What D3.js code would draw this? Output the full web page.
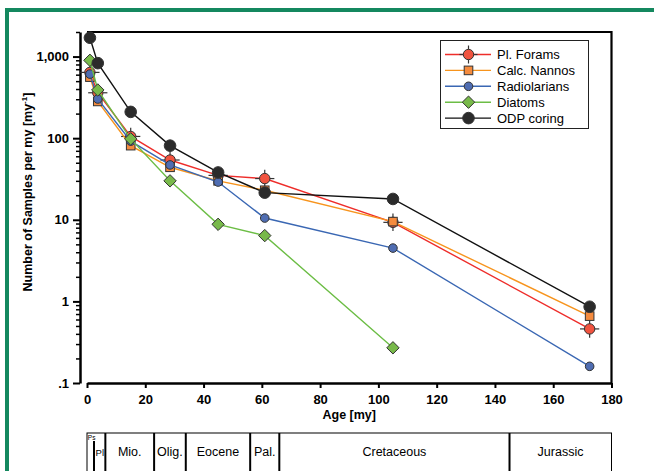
<!DOCTYPE html>
<html>
<head>
<meta charset="utf-8">
<script src="https://cdn.jsdelivr.net/npm/d3@7"></script>
<style>
body { margin: 0; background: #fff; font-family: "Liberation Sans", Arial, sans-serif; }
svg text { font-family: "Liberation Sans", Arial, sans-serif; }
</style>
</head>
<body>
<script>
// ages of the sample bins (my)
var ages = [1, 3.7, 15, 28.5, 45, 61, 105, 172.5];

// samples per my, one array per group
var forams  = [640, 360, 105, 54, 35, 32, 9.3, 0.46];
var nannos  = [560, 282, 81, 44, 30, 23, 9.5, 0.66];
var radio   = [610, 302, 92, 47, 29, 10.5, 4.5, 0.16];
var diatoms = [900, 390, 98, 30, 8.8, 6.4, 0.27];
var odp     = [1700, 830, 210, 81, 38, 21.5, 18, 0.86];

// error bars on Pl. Forams
var foramsAgeErr = 3.3;     // +/- my
var foramsFactor = 1.28;    // multiplicative

var xTicks = [0, 20, 40, 60, 80, 100, 120, 140, 160, 180];
var yMajor = [0.1, 1, 10, 100, 1000];
var yLabels = [".1", "1", "10", "100", "1,000"];

// geologic time scale
var epochBounds = [0, 2.4, 6.3, 23.03, 33.9, 56, 66, 145, 180];
var epochNames = ["Ps", "Pl", "Mio.", "Olig.", "Eocene", "Pal.", "Cretaceous", "Jurassic"];

var width = 654, height = 471;

var svg = d3.select("body").append("svg")
    .attr("width", width)
    .attr("height", height);

// green frame
svg.append("path")
    .attr("d", "M7,471 V10 H654")
    .attr("fill", "none")
    .attr("stroke", "#14885f")
    .attr("stroke-width", 4);

var x = d3.scaleLinear().domain([0, 180]).range([87, 611.5]);
var y = d3.scaleLog().domain([0.1, 2000]).range([383, 32]);

// frame top and right
svg.append("path")
    .attr("d", "M" + x(0) + "," + y(2000) + "H" + x(180) + "V" + y(0.1))
    .attr("fill", "none")
    .attr("stroke", "#000")
    .attr("stroke-width", 2.2);

// y axis, minor then major
var yMinor = y.ticks().filter(function(d) { return yMajor.indexOf(d) < 0; });
svg.append("g")
    .attr("transform", "translate(80,0)")
    .call(d3.axisLeft(y).tickValues(yMinor).tickSize(4).tickSizeOuter(0).tickFormat(""))
    .call(function(g) {
        g.selectAll("line").attr("stroke-width", 1.5);
        g.select(".domain").attr("stroke-width", 2.5);
    });
svg.append("g")
    .attr("transform", "translate(80,0)")
    .call(d3.axisLeft(y).tickValues(yMajor).tickSize(7).tickSizeOuter(0)
        .tickFormat(function(d, i) { return yLabels[i]; }))
    .call(function(g) {
        g.select(".domain").remove();
        g.selectAll("line").attr("stroke-width", 2);
        g.selectAll("text")
            .attr("x", -11)
            .attr("font-size", 13)
            .attr("font-weight", "bold")
            .attr("fill", "#000");
    });

// x axis
svg.append("g")
    .attr("transform", "translate(0," + y(0.1) + ")")
    .call(d3.axisBottom(x).tickValues(xTicks).tickSize(5).tickSizeOuter(0))
    .call(function(g) {
        g.select(".domain").attr("stroke-width", 2.5);
        g.selectAll("line").attr("stroke-width", 2);
        g.selectAll("text")
            .attr("y", 12)
            .attr("font-size", 13)
            .attr("font-weight", "bold")
            .attr("fill", "#000");
    });

svg.append("text")
    .attr("x", x(90))
    .attr("y", 419)
    .attr("text-anchor", "middle")
    .attr("font-size", 12.5)
    .attr("font-weight", "bold")
    .text("Age [my]");

var yl = svg.append("text")
    .attr("transform", "translate(32,192) rotate(-90)")
    .attr("text-anchor", "middle")
    .attr("font-size", 12.5)
    .attr("font-weight", "bold");
yl.append("tspan").text("Number of Samples per my [my");
yl.append("tspan").attr("font-size", 8).attr("dy", -5).text("-1");
yl.append("tspan").attr("dy", 5).text("]");

// series
var series = [
    { name: "Pl. Forams",   vals: forams,  line: "#ee2d2a", fill: "#f1533f", shape: "circle", r: 5.2, err: true },
    { name: "Calc. Nannos", vals: nannos,  line: "#f7941d", fill: "#f58b3e", shape: "square", r: 4.3 },
    { name: "Radiolarians", vals: radio,   line: "#3a67b3", fill: "#4f6db2", shape: "circle", r: 4.3 },
    { name: "Diatoms",      vals: diatoms, line: "#6cbd45", fill: "#78b94a", shape: "diamond", r: 6.2 },
    { name: "ODP coring",   vals: odp,     line: "#111111", fill: "#2b2b2b", shape: "circle", r: 5.8 }
];

function drawMarker(g, s, cx, cy) {
    var m;
    if (s.shape == "circle") {
        m = g.append("circle").attr("cx", cx).attr("cy", cy).attr("r", s.r);
    } else if (s.shape == "square") {
        m = g.append("rect").attr("x", cx - s.r).attr("y", cy - s.r)
            .attr("width", s.r * 2).attr("height", s.r * 2);
    } else {
        m = g.append("path").attr("d", "M" + cx + "," + (cy - s.r) + "L" + (cx + s.r) + "," + cy +
            "L" + cx + "," + (cy + s.r) + "L" + (cx - s.r) + "," + cy + "Z");
    }
    m.attr("fill", s.fill).attr("stroke", "#333").attr("stroke-width", 1);
}

var line = d3.line()
    .x(function(d) { return x(d[0]); })
    .y(function(d) { return y(d[1]); });

series.forEach(function(s) {
    var pts = s.vals.map(function(v, i) { return [ages[i], v]; });
    var g = svg.append("g");
    g.append("path")
        .attr("d", line(pts))
        .attr("fill", "none")
        .attr("stroke", s.line)
        .attr("stroke-width", 1.4);
    if (s.err) {
        pts.forEach(function(p) {
            g.append("line")
                .attr("x1", x(p[0] - foramsAgeErr)).attr("x2", x(p[0] + foramsAgeErr))
                .attr("y1", y(p[1])).attr("y2", y(p[1]))
                .attr("stroke", "#333").attr("stroke-width", 1.2);
            g.append("line")
                .attr("x1", x(p[0])).attr("x2", x(p[0]))
                .attr("y1", y(p[1] / foramsFactor)).attr("y2", y(p[1] * foramsFactor))
                .attr("stroke", "#333").attr("stroke-width", 1.2);
        });
    }
    pts.forEach(function(p) { drawMarker(g, s, x(p[0]), y(p[1])); });
});

// legend
var lg = svg.append("g");
lg.append("rect")
    .attr("x", 440.5).attr("y", 40.5)
    .attr("width", 148).attr("height", 88)
    .attr("fill", "#fff").attr("stroke", "#222").attr("stroke-width", 1);
series.forEach(function(s, i) {
    var ly = 54.5 + i * 15.9;
    lg.append("line")
        .attr("x1", 445).attr("x2", 491).attr("y1", ly).attr("y2", ly)
        .attr("stroke", s.line).attr("stroke-width", 1.4);
    if (s.err) {
        lg.append("line").attr("x1", 468.5).attr("x2", 468.5).attr("y1", ly - 9).attr("y2", ly + 9)
            .attr("stroke", "#333").attr("stroke-width", 1.2);
        lg.append("line").attr("x1", 459.5).attr("x2", 477.5).attr("y1", ly).attr("y2", ly)
            .attr("stroke", "#333").attr("stroke-width", 1.2);
    }
    drawMarker(lg, s, 468.5, ly);
    lg.append("text")
        .attr("x", 497).attr("y", ly + 4.5)
        .attr("font-size", 13)
        .text(s.name);
});

// time scale
var ts = svg.append("g");
var tsTop = 433, tsBot = 476;
ts.append("rect")
    .attr("x", x(0)).attr("y", tsTop)
    .attr("width", x(180) - x(0)).attr("height", tsBot - tsTop)
    .attr("fill", "#fff").attr("stroke", "#000").attr("stroke-width", 1);
epochBounds.slice(1, -1).forEach(function(b, i) {
    ts.append("line")
        .attr("x1", x(b)).attr("x2", x(b))
        .attr("y1", i == 0 ? tsTop + 8 : tsTop).attr("y2", tsBot)
        .attr("stroke", "#000").attr("stroke-width", 2);
});
epochNames.forEach(function(n, i) {
    var t = ts.append("text").text(n);
    if (n == "Ps") {
        t.attr("x", x(0) + 0.8).attr("y", tsTop + 7).attr("font-size", 6.5);
    } else if (n == "Pl") {
        t.attr("x", x(epochBounds[i]) + 1.6).attr("y", 456).attr("font-size", 9.5);
    } else {
        t.attr("x", (x(epochBounds[i]) + x(epochBounds[i + 1])) / 2)
            .attr("y", 456)
            .attr("text-anchor", "middle")
            .attr("font-size", 12.5);
    }
});
</script>
</body>
</html>
